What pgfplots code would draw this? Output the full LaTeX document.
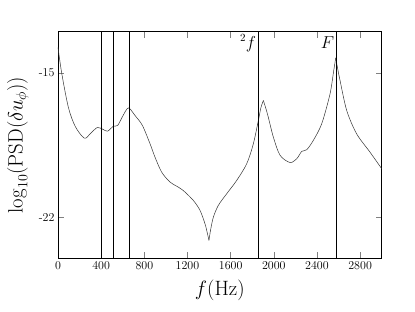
\documentclass[border=0pt]{standalone}
\usepackage{pgfplots}
\pgfplotsset{compat=1.18}
\newcommand{\subsz}[1]{\mbox{\fontsize{14}{14}\selectfont #1}}
\begin{document}
\begin{tikzpicture}[x=1pt,y=1pt]
\useasboundingbox (0,0) rectangle (415,312);
\begin{axis}[
  at={(58pt,53.7pt)}, anchor=south west,
  scale only axis, width=323.7pt, height=226.6pt,
  xmin=0, xmax=3000, ymin=-24, ymax=-13,
  xtick={0,400,...,2800},
  ytick={-15,-22}, yticklabels={-15,-22},
  xticklabel style={font=\large},
  yticklabel style={font=\large},
  /pgf/number format/assume math mode=true,
  /pgf/number format/1000 sep={},
  major tick length=6pt,
  tick style={gray, line width=0.6pt},
  axis line style={line width=0.7pt},
  xlabel={$f(\mathrm{Hz})$},
  ylabel={$\log_{\subsz{10}}(\mathrm{PSD}(\delta u_{\subsz{$\phi$}}))$},
  xlabel style={font=\fontsize{20}{24}\selectfont, at={(axis description cs:0.5,-0.14)}, anchor=center},
  ylabel style={font=\fontsize{20}{24}\selectfont, at={(axis description cs:-0.124,0.5)}, anchor=center},
]
\addplot[black!80, line width=0.5pt, smooth] coordinates {
(0,-13.76) (34,-15.0) (96,-16.67) (160,-17.6) (244,-18.17) (297,-17.96) (365,-17.65)
(420,-17.75) (460,-17.83) (513,-17.59) (553,-17.55) (600,-17.1) (652,-16.70) (714,-17.07)
(782,-17.55) (853,-18.44) (899,-19.09) (961,-19.82) (1038,-20.30) (1100,-20.5) (1161,-20.71)
(1254,-21.19) (1316,-21.67) (1362,-22.32) (1385,-22.8) (1399,-23.13)
};
\addplot[black!80, line width=0.5pt, smooth] coordinates {
(1399,-23.13) (1415,-22.6) (1440,-22.0) (1486,-21.43) (1563,-20.87) (1656,-20.22) (1749,-19.41)
(1810,-18.45) (1857,-17.31) (1880,-16.7) (1903,-16.34)
};
\addplot[black!80, line width=0.5pt, smooth] coordinates {
(1903,-16.34) (1925,-16.7) (1949,-17.15) (1996,-18.12) (2058,-19.0) (2150,-19.35) (2212,-19.17)
(2259,-18.81) (2305,-18.73) (2366,-18.28) (2444,-17.47) (2521,-16.02) (2555,-14.9) (2574,-14.27)
};
\addplot[black!80, line width=0.5pt, smooth] coordinates {
(2574,-14.27) (2592,-14.8) (2614,-15.37) (2676,-16.83) (2768,-17.96) (2892,-18.85) (3000,-19.65)
};
\addplot[black, line width=0.6pt] coordinates {(405,-24) (405,-13)};
\addplot[black, line width=0.6pt] coordinates {(516,-24) (516,-13)};
\addplot[black, line width=0.6pt] coordinates {(661,-24) (661,-13)};
\addplot[black, line width=0.6pt] coordinates {(1857,-24) (1857,-13)};
\addplot[black, line width=0.6pt] coordinates {(2580,-24) (2580,-13)};
\node[anchor=east, font=\fontsize{16}{18}\selectfont, inner sep=2pt] at (axis cs:1857,-13.55) {$^2f$};
\node[anchor=east, font=\fontsize{16}{18}\selectfont, inner sep=2pt] at (axis cs:2580,-13.55) {$F$};
\end{axis}
\end{tikzpicture}
\end{document}
